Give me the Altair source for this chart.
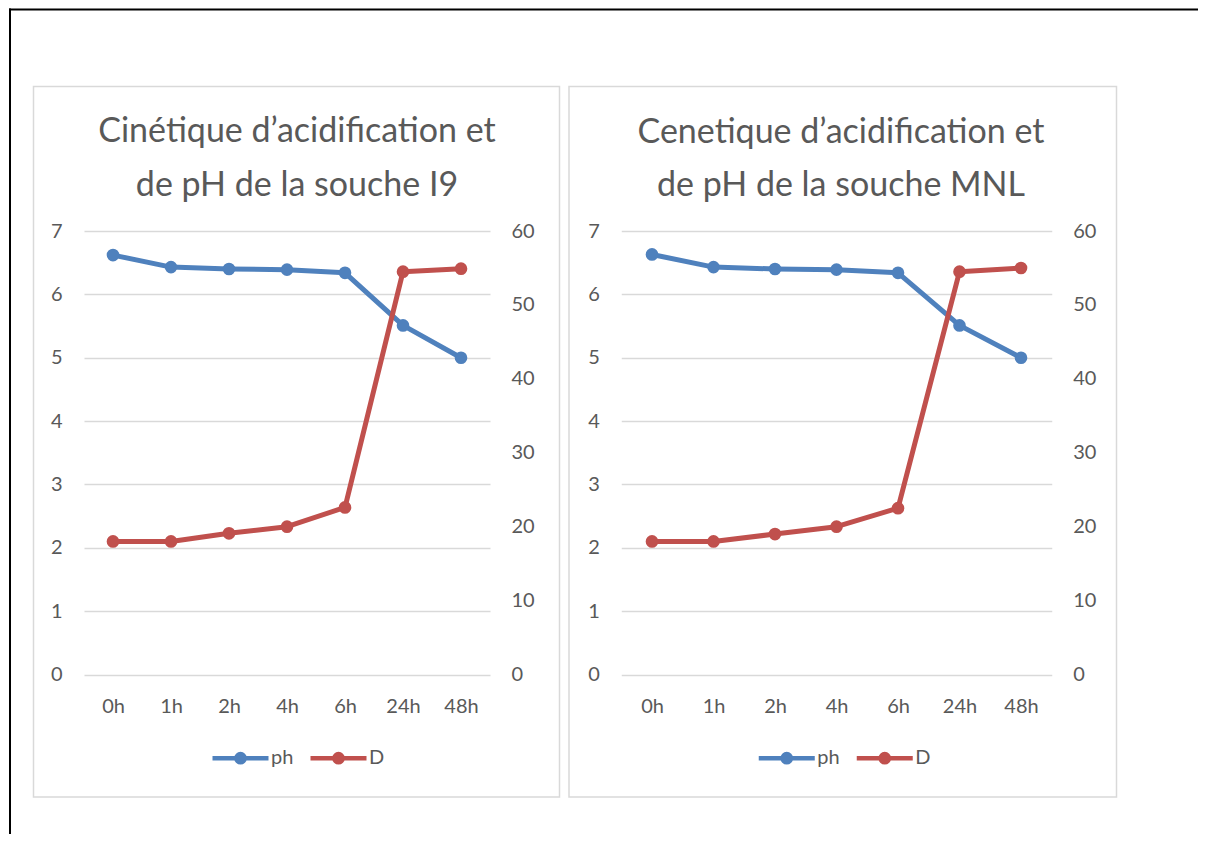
import altair as alt
import pandas as pd

categories = ["0h", "1h", "2h", "4h", "6h", "24h", "48h"]
ph_I9 = [6.62, 6.43, 6.40, 6.39, 6.34, 5.51, 5.00]
D_I9 = [18.0, 18.0, 19.1, 20.0, 22.6, 54.5, 54.9]
ph_MNL = [6.63, 6.43, 6.40, 6.39, 6.34, 5.51, 5.00]
D_MNL = [18.0, 18.0, 19.0, 20.0, 22.5, 54.5, 55.0]
title_I9 = ["Cinétique d’acidification et", "de pH de la souche I9"]
title_MNL = ["Cenetique d’acidification et", "de pH de la souche MNL"]
series = ["ph", "D"]
colors = ["#4f81bd", "#c0504d"]
ph_ticks = [0, 1, 2, 3, 4, 5, 6, 7]
D_ticks = [0, 10, 20, 30, 40, 50, 60]

FONT = "Lato"
TXT = "#595959"
GRID = "#d9d9d9"
PLOT_H = 443.5

# legend symbol: horizontal line with a filled dot (drawn with stroked concentric rings)
SYMBOL = ("M-1,0H1"
          "M-0.146,0A0.146,0.146,0,1,0,0.146,0A0.146,0.146,0,1,0,-0.146,0"
          "M-0.068,0A0.068,0.068,0,1,0,0.068,0A0.068,0.068,0,1,0,-0.068,0")


def panel(ph, D, title, width, box, title_dx, title_dy, legend_x, frame=False):
    df_ph = pd.DataFrame({"t": categories, "val": ph, "serie": "ph"})
    df_D = pd.DataFrame({"t": categories, "val": D, "serie": "D"})
    one = pd.DataFrame({"k": [0]})

    x = alt.X("t:N", sort=categories,
              scale=alt.Scale(type="point", padding=0.5),
              axis=alt.Axis(title=None, labelAngle=0, domain=False, ticks=False, grid=False,
                            labelFont=FONT, labelFontSize=20, labelColor=TXT, labelPadding=22))
    legend = alt.Legend(title=None, orient="none", legendX=legend_x, legendY=496.5,
                        direction="horizontal", columns=2, symbolType=SYMBOL, symbolSize=3136,
                        symbolStrokeWidth=4.5, labelFont=FONT, labelFontSize=20, labelColor=TXT,
                        labelOffset=0, columnPadding=7, padding=0, symbolOffset=0)
    color = alt.Color("serie:N", scale=alt.Scale(domain=series, range=colors), legend=legend)

    ph_layer = alt.Chart(df_ph).mark_line(
        strokeWidth=5, strokeJoin="round",
        point=alt.OverlayMarkDef(filled=True, size=160, opacity=1)
    ).encode(
        x=x,
        y=alt.Y("val:Q", scale=alt.Scale(domain=[0, 7], nice=False),
                axis=alt.Axis(title=None, orient="left", values=ph_ticks, domain=False, ticks=False,
                              grid=True, gridColor=GRID, gridWidth=1.5,
                              labelFont=FONT, labelFontSize=20, labelColor=TXT, labelPadding=22)),
        color=color,
    )
    D_layer = alt.Chart(df_D).mark_line(
        strokeWidth=5, strokeJoin="round",
        point=alt.OverlayMarkDef(filled=True, size=160, opacity=1)
    ).encode(
        x=x,
        y=alt.Y("val:Q", scale=alt.Scale(domain=[0, 60], nice=False),
                axis=alt.Axis(title=None, orient="right", values=D_ticks, domain=False, ticks=False,
                              grid=False,
                              labelFont=FONT, labelFontSize=20, labelColor=TXT, labelPadding=21)),
        color=color,
    )

    bx1, bx2, by1, by2 = box
    box_layer = alt.Chart(one).mark_rect(fillOpacity=0, stroke=GRID, strokeWidth=1.5).encode(
        x=alt.value(bx1), x2=alt.value(bx2), y=alt.value(by1), y2=alt.value(by2))

    layers = [box_layer]
    if frame:
        top = alt.Chart(one).mark_rule(color="black", strokeWidth=2, strokeCap="square").encode(
            x=alt.value(-74), x2=alt.value(1113), y=alt.value(-221.5))
        left = alt.Chart(one).mark_rule(color="black", strokeWidth=2, strokeCap="square").encode(
            x=alt.value(-74), y=alt.value(-221.5), y2=alt.value(602))
        layers += [top, left]
    layers += [ph_layer, D_layer]

    return alt.layer(*layers).resolve_scale(y="independent").properties(
        width=width, height=PLOT_H,
        title=alt.TitleParams(text=title, font=FONT, fontSize=34, fontWeight="normal", color=TXT,
                              anchor="middle", frame="group", offset=0, baseline="alphabetic",
                              lineHeight=53.3, dx=title_dx, dy=title_dy),
    )


left_panel = panel(ph_I9, D_I9, title_I9, 406, (-50.5, 475.5, -144.5, 566), 10, 221.6, 126, frame=True)
right_panel = panel(ph_MNL, D_MNL, title_MNL, 430.5, (-52.25, 495.25, -144.5, 566), 4.5, 144.35, 135)

chart = alt.hconcat(left_panel, right_panel, spacing=131.25, bounds="flush", padding=0).resolve_scale(
    color="independent"
).configure_view(strokeWidth=0)

chart.save("out.html", embed_options={"renderer": "svg", "actions": False})
